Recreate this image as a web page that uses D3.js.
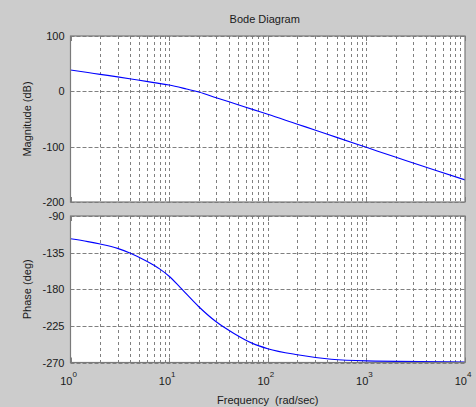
<!DOCTYPE html>
<html>
<head>
<meta charset="utf-8">
<script src="https://cdn.jsdelivr.net/npm/d3@7"></script>
<style>
  html, body { margin: 0; padding: 0; background: #cccccc; }
  svg { display: block; }
  text { font-family: "Liberation Sans", Arial, sans-serif; fill: #1a1a1a; }
</style>
</head>
<body>
<svg id="chart" width="476" height="407"></svg>
<script>
// ---- Data ----
const freq = [1, 1.5, 2, 3, 5, 7, 10, 15, 20, 30, 50, 70, 100, 200, 300, 500, 1000, 2000, 5000, 10000];
const magDb = [38.5, 34, 30.7, 26.2, 19.9, 15.8, 11.4, 4.2, -1.3, -11.5, -24.2, -32.6, -41.3, -59.4, -69.8, -83.2, -101.2, -119.2, -142.8, -160];

const phaseFreq = [1, 1.5, 2, 3, 4, 6, 8, 10, 13, 20, 30, 45, 70, 100, 200, 440, 1000, 10000];
const phaseDeg = [-118, -121.5, -124.5, -129.8, -135.5, -146, -155, -164, -178, -201.5, -220, -234, -246.5, -253, -260.5, -266, -268, -269.3];

const magTicks = [100, 0, -100, -200];
const phaseTicks = [-90, -135, -180, -225, -270];
const decadeExps = [0, 1, 2, 3, 4];

const titleText = "Bode Diagram";
const xLabel = "Frequency  (rad/sec)";
const magLabel = "Magnitude (dB)";
const phaseLabel = "Phase (deg)";

// ---- Layout ----
const W = 476, H = 407;
const left = 70.5, right = 465;
const magTop = 36, magBottom = 202;
const phTop = 216, phBottom = 362.5;

const svg = d3.select("#chart");
svg.append("rect").attr("width", W).attr("height", H).attr("fill", "#cccccc");

const x = d3.scaleLog().domain([1, 1e4]).range([left, right]);
const yMag = d3.scaleLinear().domain([-200, 100]).range([magBottom, magTop]);
const yPh = d3.scaleLinear().domain([-270, -90]).range([phBottom, phTop]);

// all vertical grid positions (decades and their subdivisions)
const gridX = [];
for (let e = 0; e < 4; e++) {
  for (let k = 1; k <= 9; k++) gridX.push(k * Math.pow(10, e));
}
gridX.push(1e4);

function panel(y, top, bottom, ticks, xs, ys) {
  const g = svg.append("g");
  g.append("rect").attr("x", left).attr("y", top)
    .attr("width", right - left).attr("height", bottom - top)
    .attr("fill", "#ffffff");

  // vertical grid
  g.selectAll("line.vg").data(gridX.filter(f => f > 1 && f < 1e4)).enter()
    .append("line").attr("class", "vg")
    .attr("x1", d => Math.round(x(d)) + 0.5).attr("x2", d => Math.round(x(d)) + 0.5)
    .attr("y1", top).attr("y2", bottom)
    .attr("stroke", "#808080").attr("stroke-width", 1)
    .attr("stroke-dasharray", "3,3");

  // horizontal grid
  g.selectAll("line.hg").data(ticks).enter()
    .append("line").attr("class", "hg")
    .attr("x1", left).attr("x2", right)
    .attr("y1", d => Math.round(y(d)) + 0.5).attr("y2", d => Math.round(y(d)) + 0.5)
    .attr("stroke", "#808080").attr("stroke-width", 1)
    .attr("stroke-dasharray", "4,2");

  // major x tick marks (inside, top and bottom)
  decadeExps.forEach(e => {
    const px = Math.round(x(Math.pow(10, e))) + 0.5;
    g.append("line").attr("x1", px).attr("x2", px).attr("y1", bottom).attr("y2", bottom - 5)
      .attr("stroke", "#808080");
    g.append("line").attr("x1", px).attr("x2", px).attr("y1", top).attr("y2", top + 5)
      .attr("stroke", "#808080");
  });

  // curve
  const line = d3.line()
    .x((d, i) => x(xs[i]))
    .y((d, i) => y(ys[i]))
    .curve(d3.curveMonotoneX);
  g.append("path").datum(ys).attr("d", line)
    .attr("fill", "none").attr("stroke", "#0000ff").attr("stroke-width", 1.1);

  // border
  g.append("rect").attr("x", left).attr("y", top)
    .attr("width", right - left).attr("height", bottom - top)
    .attr("fill", "none").attr("stroke", "#7a7a7a").attr("stroke-width", 1.2);

  // y tick labels
  g.selectAll("text.yt").data(ticks).enter()
    .append("text").attr("class", "yt")
    .attr("x", left - 6).attr("y", d => y(d) + 4)
    .attr("text-anchor", "end").attr("font-size", 11)
    .text(d => d);
}

panel(yMag, magTop, magBottom, magTicks, freq, magDb);
panel(yPh, phTop, phBottom, phaseTicks, phaseFreq, phaseDeg);

// x tick labels with superscripts
decadeExps.forEach(e => {
  const t = svg.append("text")
    .attr("x", x(Math.pow(10, e)) - 2).attr("y", 385)
    .attr("text-anchor", "middle").attr("font-size", 11);
  t.append("tspan").text("10");
  t.append("tspan").attr("dy", -8).attr("font-size", 8).text(String(e));
});

// title and axis labels
svg.append("text").attr("x", (left + right) / 2 - 3).attr("y", 23)
  .attr("text-anchor", "middle").attr("font-size", 11).text(titleText);

svg.append("text").attr("x", (left + right) / 2).attr("y", 404)
  .attr("text-anchor", "middle").attr("font-size", 11).attr("xml:space", "preserve")
  .style("white-space", "pre").text(xLabel);

svg.append("text")
  .attr("transform", `translate(31,${(magTop + magBottom) / 2}) rotate(-90)`)
  .attr("text-anchor", "middle").attr("font-size", 11).text(magLabel);

svg.append("text")
  .attr("transform", `translate(31,${(phTop + phBottom) / 2}) rotate(-90)`)
  .attr("text-anchor", "middle").attr("font-size", 11).text(phaseLabel);
</script>
</body>
</html>
